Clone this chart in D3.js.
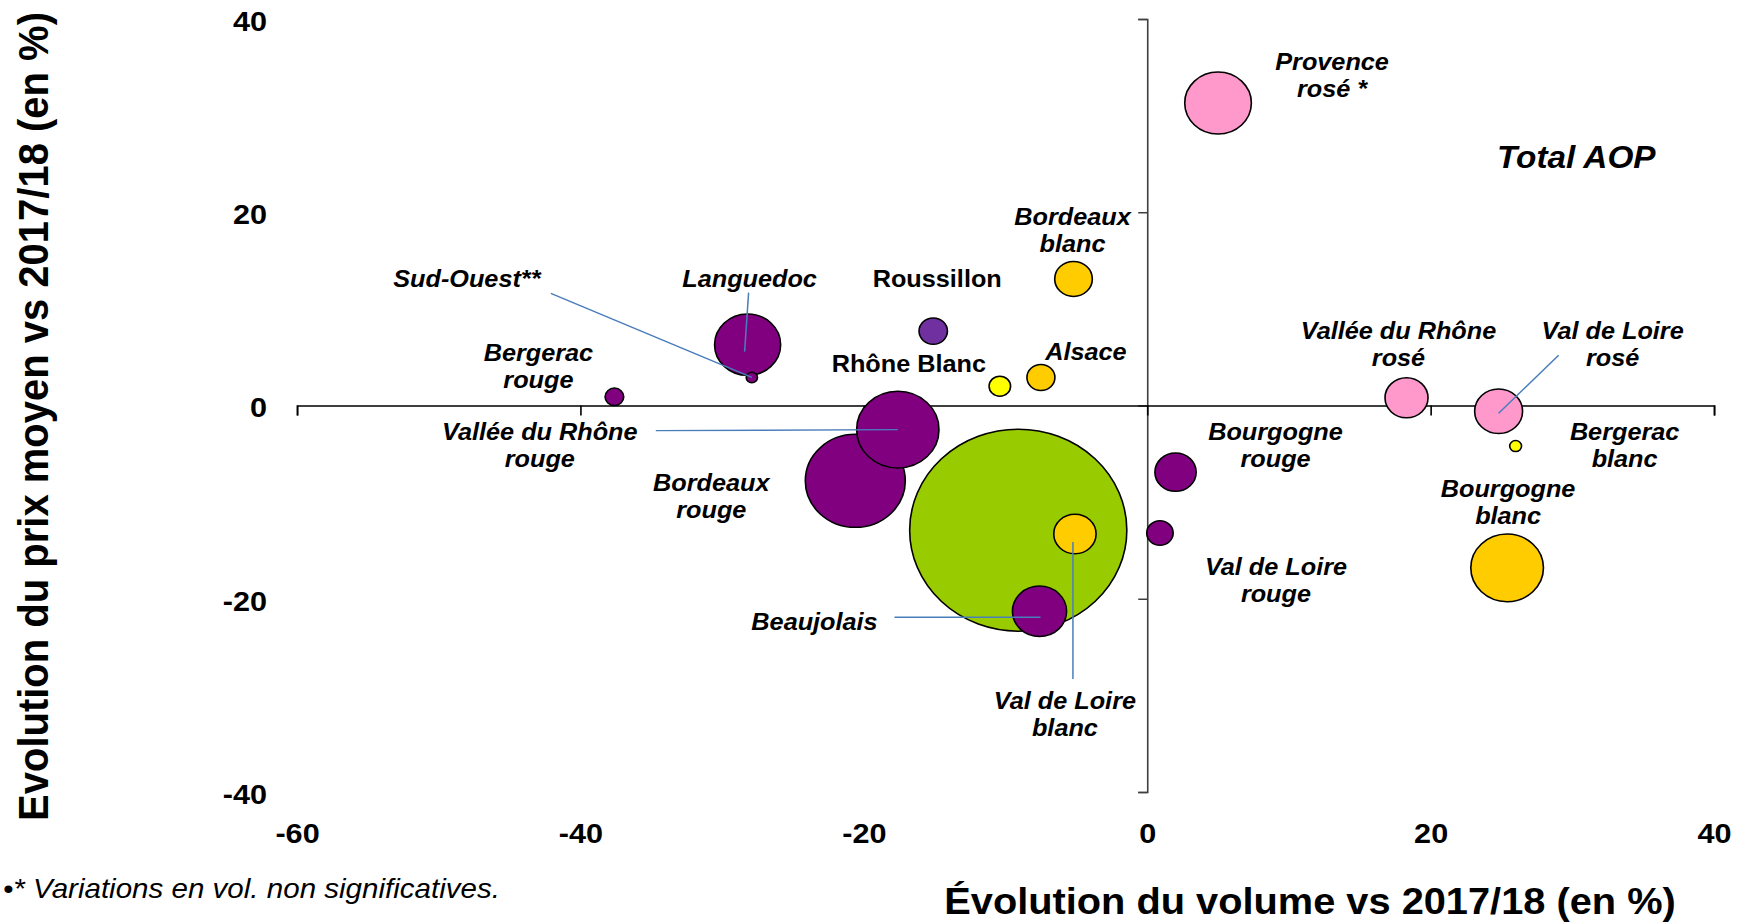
<!DOCTYPE html>
<html>
<head>
<meta charset="utf-8">
<script src="https://cdn.jsdelivr.net/npm/d3@7"></script>
<style>
  body { margin: 0; background: #fff; }
  svg { display: block; }
</style>
</head>
<body>
<script>
// ---- data ----
const names = ["Languedoc", "Sud-Ouest**", "Roussillon", "Bordeaux blanc", "Rhône Blanc", "Alsace",
  "Bergerac rouge", "Vallée du Rhône rouge", "Bordeaux rouge", "Total AOP", "Val de Loire blanc",
  "Beaujolais", "Bourgogne rouge", "Val de Loire rouge", "Provence rosé *", "Vallée du Rhône rosé",
  "Val de Loire rosé", "Bergerac blanc", "Bourgogne blanc"];
const volumeChange = [-28.2, -27.9, -15.1, -5.2, -10.4, -7.5, -37.6, -17.6, -20.6, -9.1, -5.1,
  -7.6, 2.0, 0.9, 5.0, 18.3, 24.8, 26.0, 25.4];
const priceChange = [6.3, 2.9, 7.7, 13.1, 2.0, 2.9, 0.9, -2.5, -7.8, -12.9, -13.3,
  -21.3, -6.9, -13.2, 31.3, 0.8, -0.6, -4.2, -16.8];
const volumes = [925, 27, 171, 300, 98, 166, 74, 1438, 2120, 10000, 380,
  622, 361, 148, 942, 392, 487, 30, 1120];
const wineTypes = ["rouge", "rouge", "mixte", "blanc", "blanc clair", "blanc", "rouge", "rouge", "rouge",
  "total", "blanc", "rouge", "rouge", "rouge", "rosé", "rosé", "rosé", "blanc clair", "blanc"];
const xTicks = [-60, -40, -20, 0, 20, 40];
const yTicks = [-40, -20, 0, 20, 40];

// ---- style ----
const FONT = "'Liberation Sans', Arial, Helvetica, sans-serif";
const SX = 1.075; // the original picture is slightly stretched horizontally
const typeColour = {
  "rouge": "#800080", "mixte": "#7030A0", "blanc": "#FFCC00",
  "blanc clair": "#FFFF00", "rosé": "#FF99CC", "total": "#99CC00"
};
// label placement relative to the bubble centre (screen px), optional leader line
const labelLayout = {
  "Languedoc": { lines: ["Languedoc"], dx: 2, dy: -58, leader: [1, -52, -3, 7] },
  "Sud-Ouest**": { lines: ["Sud-Ouest**"], dx: -285, dy: -90, leader: [-201, -84, 0, 0] },
  "Roussillon": { lines: ["Roussillon"], dx: 4, dy: -44, upright: true },
  "Bordeaux blanc": { lines: ["Bordeaux", "blanc"], dx: -1, dy: -54 },
  "Rhône Blanc": { lines: ["Rhône Blanc"], dx: -91, dy: -14, upright: true },
  "Alsace": { lines: ["Alsace"], dx: 45, dy: -17 },
  "Bergerac rouge": { lines: ["Bergerac", "rouge"], dx: -76, dy: -36 },
  "Vallée du Rhône rouge": { lines: ["Vallée du Rhône", "rouge"], dx: -358, dy: 10, leader: [-242, 1, 0, 0] },
  "Bordeaux rouge": { lines: ["Bordeaux", "rouge"], dx: -144, dy: 10 },
  "Total AOP": { lines: ["Total AOP"], dx: 558, dy: -362, big: true },
  "Val de Loire blanc": { lines: ["Val de Loire", "blanc"], dx: -10, dy: 175, leader: [-2, 8, -2, 145] },
  "Beaujolais": { lines: ["Beaujolais"], dx: -225, dy: 19, leader: [-145, 6, 1, 6] },
  "Bourgogne rouge": { lines: ["Bourgogne", "rouge"], dx: 100, dy: -32 },
  "Val de Loire rouge": { lines: ["Val de Loire", "rouge"], dx: 116, dy: 42 },
  "Provence rosé *": { lines: ["Provence", "rosé *"], dx: 114, dy: -33 },
  "Vallée du Rhône rosé": { lines: ["Vallée du Rhône", "rosé"], dx: -8, dy: -59 },
  "Val de Loire rosé": { lines: ["Val de Loire", "rosé"], dx: 114, dy: -72, leader: [60, -56, 0, 2] },
  "Bergerac blanc": { lines: ["Bergerac", "blanc"], dx: 109, dy: -6 },
  "Bourgogne blanc": { lines: ["Bourgogne", "blanc"], dx: 1, dy: -71 }
};

const data = names.map((n, i) => ({
  name: n, vol: volumeChange[i], price: priceChange[i], size: volumes[i], type: wineTypes[i]
}));

const width = 1750, height = 922;

const svg = d3.select("body").append("svg")
  .attr("width", width)
  .attr("height", height)
  .style("font-family", FONT);

const g = svg.append("g").attr("transform", `scale(${SX},1)`);

const x = d3.scaleLinear().domain([-60, 40]).range([297 / SX, 1714 / SX]);
const y = d3.scaleLinear().domain([-40, 40]).range([792, 19]);
const r = d3.scaleSqrt().domain([0, 10000]).range([0, 101]);

const plainNum = d => String(d); // hyphen-minus like the original

// y axis (labels sit far left, Excel "low" position)
const yAxis = g.append("g")
  .attr("transform", `translate(${x(0)},0)`)
  .call(d3.axisLeft(y).tickValues(yTicks).tickFormat(plainNum).tickSize(9 / SX)
    .tickPadding(x(0) - 267 / SX - 9 / SX));
yAxis.attr("font-family", FONT).attr("font-size", 28.5).attr("font-weight", "bold");
yAxis.selectAll("text").attr("dy", "0.4em");
yAxis.selectAll(".domain, .tick line").attr("stroke", "#404040").attr("stroke-width", 1.5);

// x axis (labels at the bottom)
const xAxis = g.append("g")
  .attr("transform", `translate(0,${y(0)})`)
  .call(d3.axisBottom(x).tickValues(xTicks).tickFormat(plainNum).tickSize(10).tickPadding(407.6));
xAxis.attr("font-family", FONT).attr("font-size", 28.5).attr("font-weight", "bold");
xAxis.selectAll(".domain, .tick line").attr("stroke", "#000").attr("stroke-width", 1.5);

// bubbles, biggest first so small ones stay visible
const sorted = data.slice().sort((a, b) => b.size - a.size);
g.append("g")
  .selectAll("circle")
  .data(sorted)
  .enter().append("circle")
  .attr("cx", d => x(d.vol))
  .attr("cy", d => y(d.price))
  .attr("r", d => r(d.size))
  .attr("fill", d => typeColour[d.type])
  .attr("stroke", "#000")
  .attr("stroke-width", 1.5);

// leader lines
g.append("g")
  .selectAll("line")
  .data(data.filter(d => labelLayout[d.name].leader))
  .enter().append("line")
  .attr("x1", d => x(d.vol) + labelLayout[d.name].leader[0] / SX)
  .attr("y1", d => y(d.price) + labelLayout[d.name].leader[1])
  .attr("x2", d => x(d.vol) + labelLayout[d.name].leader[2] / SX)
  .attr("y2", d => y(d.price) + labelLayout[d.name].leader[3])
  .attr("stroke", "#4A7EBB")
  .attr("stroke-width", 1.4);

// labels
const labels = g.append("g")
  .selectAll("text")
  .data(data)
  .enter().append("text")
  .attr("x", d => x(d.vol) + labelLayout[d.name].dx / SX)
  .attr("y", d => y(d.price) + labelLayout[d.name].dy)
  .attr("text-anchor", "middle")
  .attr("font-weight", "bold")
  .attr("font-style", d => labelLayout[d.name].upright ? "normal" : "italic")
  .attr("font-size", d => labelLayout[d.name].big ? 31 : 23.5)
  .attr("fill", "#000");

labels.each(function(d) {
  const t = d3.select(this);
  labelLayout[d.name].lines.forEach((line, i) => {
    t.append("tspan")
      .attr("x", x(d.vol) + labelLayout[d.name].dx / SX)
      .attr("dy", i === 0 ? 0 : 27)
      .text(line);
  });
});

// axis titles
g.append("text")
  .attr("transform", `translate(${48 / SX},416.5) rotate(-90)`)
  .attr("text-anchor", "middle")
  .attr("font-weight", "bold")
  .attr("font-size", 40)
  .text("Evolution du prix moyen vs 2017/18 (en %)");

g.append("text")
  .attr("x", 1310 / SX)
  .attr("y", 914)
  .attr("text-anchor", "middle")
  .attr("font-weight", "bold")
  .attr("font-size", 37)
  .text("Évolution du volume vs 2017/18 (en %)");

// footnote
g.append("text")
  .attr("x", 3 / SX)
  .attr("y", 898)
  .attr("font-style", "italic")
  .attr("font-size", 27.5)
  .text("•* Variations en vol. non significatives.");
</script>
</body>
</html>
